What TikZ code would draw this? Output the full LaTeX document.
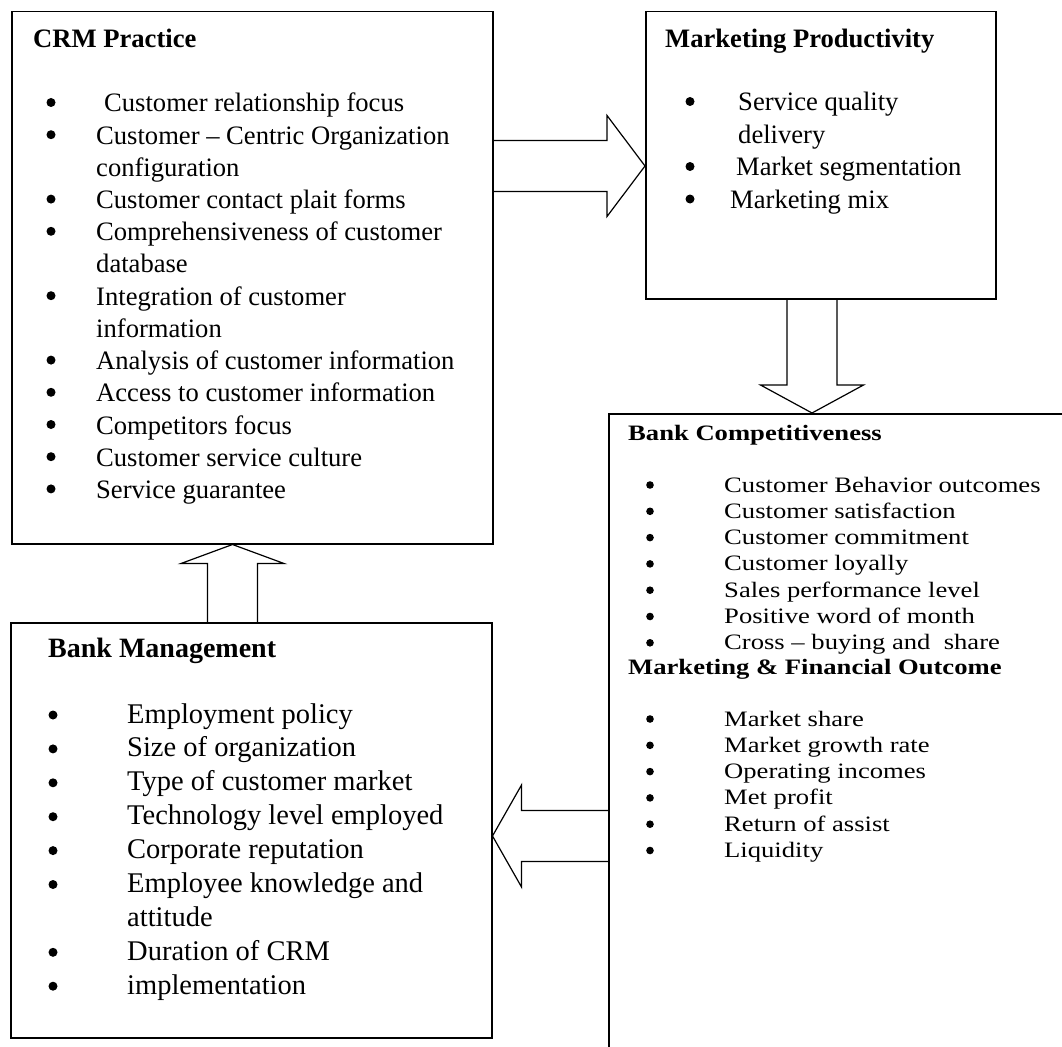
\documentclass[tikz,border=0pt]{standalone}
\usepackage{fontspec}
\setmainfont{Liberation Serif}
\newfontfamily\widefont[FakeStretch=1.21]{Liberation Serif}
\usetikzlibrary{calc}

\tikzset{
  box/.style={draw, line width=1.5pt, inner sep=0pt, anchor=north west},
  fat/.style={line width=1.2pt},
  txt/.style={inner sep=0pt, anchor=base west},
}

% tail, tip, shaft half width, head half width, head length
\newcommand{\fatarrow}[5]{%
  \coordinate (fa-h) at ($(#2)!#5!(#1)$);
  \draw[fat] ($(#1)!#3!90:(#2)$) -- ($(fa-h)!#3!90:(#2)$) -- ($(fa-h)!#4!90:(#2)$) -- (#2)
    -- ($(fa-h)!#4!-90:(#2)$) -- ($(fa-h)!#3!-90:(#2)$) -- ($(#1)!#3!-90:(#2)$);
}

\begin{document}
\begin{tikzpicture}[x=1pt, y=-1pt]
\path[use as bounding box, clip] (0,0) rectangle (1062,1046);

% boxes
\node[box, minimum width=481pt, minimum height=532pt] (crm) at (11,11) {};
\node[box, minimum width=350pt, minimum height=287pt] (mp) at (645,11) {};
\node[box, minimum width=520pt, minimum height=700pt] (bc) at (608,413) {};
\node[box, minimum width=481pt, minimum height=415pt] (bm) at (10,622) {};

% CRM practice
\node[txt, font=\fontsize{26.6}{32.2}\selectfont\bfseries] (crm-title) at (33,48) {CRM Practice};
\node[txt, font=\fontsize{26.6}{32.2}\selectfont] (crm-list) at (96,112) {%
\begin{tabular}[t]{@{}l@{}}
\hspace{8pt}Customer relationship focus\\
Customer – Centric Organization\\
configuration\\
Customer contact plait forms\\
Comprehensiveness of customer\\
database\\
Integration of customer\\
information\\
Analysis of customer information\\
Access to customer information\\
Competitors focus\\
Customer service culture\\
Service guarantee
\end{tabular}};
\fill (51,102.5) circle (4.5pt) (51,134.7) circle (4.5pt) (51,199.1) circle (4.5pt)
  (51,231.3) circle (4.5pt) (51,295.7) circle (4.5pt) (51,360.1) circle (4.5pt)
  (51,392.3) circle (4.5pt) (51,424.5) circle (4.5pt) (51,456.7) circle (4.5pt)
  (51,488.9) circle (4.5pt);

% marketing productivity
\node[txt, font=\fontsize{26.6}{32.5}\selectfont\bfseries] (mp-title) at (665,48) {Marketing Productivity};
\node[txt, font=\fontsize{26.6}{32.5}\selectfont] (mp-list) at (738,111) {%
\begin{tabular}[t]{@{}l@{}}
Service quality\\
delivery\\
\hspace{-2pt}Market segmentation\\
\hspace{-8pt}Marketing mix
\end{tabular}};
\fill (690,101.5) circle (4.5pt) (690,166.5) circle (4.5pt) (690,199) circle (4.5pt);

% bank competitiveness
\node[txt, font=\widefont\fontsize{22}{26.3}\selectfont\bfseries] (bc-title) at (628,440) {Bank Competitiveness};
\node[txt, font=\widefont\fontsize{22}{26.3}\selectfont] (bc-list) at (724,492) {%
\begin{tabular}[t]{@{}l@{}}
Customer Behavior outcomes\\
Customer satisfaction\\
Customer commitment\\
Customer loyally\\
Sales performance level\\
Positive word of month\\
Cross – buying and\ \ share
\end{tabular}};
\fill (650,485) circle (3.8pt) (650,511.3) circle (3.8pt) (650,537.6) circle (3.8pt)
  (650,563.9) circle (3.8pt) (650,590.2) circle (3.8pt) (650,616.5) circle (3.8pt)
  (650,642.8) circle (3.8pt);
\node[txt, font=\widefont\fontsize{22}{26.3}\selectfont\bfseries] (mf-title) at (628,674) {Marketing \& Financial Outcome};
\node[txt, font=\widefont\fontsize{22}{26.3}\selectfont] (mf-list) at (724,726) {%
\begin{tabular}[t]{@{}l@{}}
Market share\\
Market growth rate\\
Operating incomes\\
Met profit\\
Return of assist\\
Liquidity
\end{tabular}};
\fill (650,719) circle (3.8pt) (650,745.3) circle (3.8pt) (650,771.6) circle (3.8pt)
  (650,797.9) circle (3.8pt) (650,824.2) circle (3.8pt) (650,850.5) circle (3.8pt);

% bank management
\node[txt, font=\fontsize{28}{33.9}\selectfont\bfseries] (bm-title) at (48,657) {Bank Management};
\node[txt, font=\fontsize{28.5}{33.9}\selectfont] (bm-list) at (127,723) {%
\begin{tabular}[t]{@{}l@{}}
Employment policy\\
Size of organization\\
Type of customer market\\
Technology level employed\\
Corporate reputation\\
Employee knowledge and\\
attitude\\
Duration of CRM\\
implementation
\end{tabular}};
\fill (53,715) circle (4.5pt) (53,748.9) circle (4.5pt) (53,782.8) circle (4.5pt)
  (53,816.7) circle (4.5pt) (53,850.6) circle (4.5pt) (53,884.5) circle (4.5pt)
  (53,952.3) circle (4.5pt) (53,986.2) circle (4.5pt);

% block arrows
\coordinate (crm-out) at (crm.east |- 0,166);
\coordinate (mp-in) at (mp.west |- 0,166);
\coordinate (mp-out) at (mp.south -| 812,0);
\coordinate (bc-in) at (bc.north -| 812,0);
\coordinate (bc-out) at (bc.west |- 0,836);
\coordinate (bm-in) at (bm.east |- 0,836);
\coordinate (bm-out) at (bm.north -| 232.5,0);
\coordinate (crm-in) at (crm.south -| 232.5,0);

\fatarrow{crm-out}{mp-in}{25.5pt}{50.5pt}{38pt}
\fatarrow{mp-out}{bc-in}{25pt}{51.5pt}{28pt}
\fatarrow{bc-out}{bm-in}{25.5pt}{51pt}{29pt}
\fatarrow{bm-out}{crm-in}{25pt}{51.5pt}{19pt}
\end{tikzpicture}
\end{document}
